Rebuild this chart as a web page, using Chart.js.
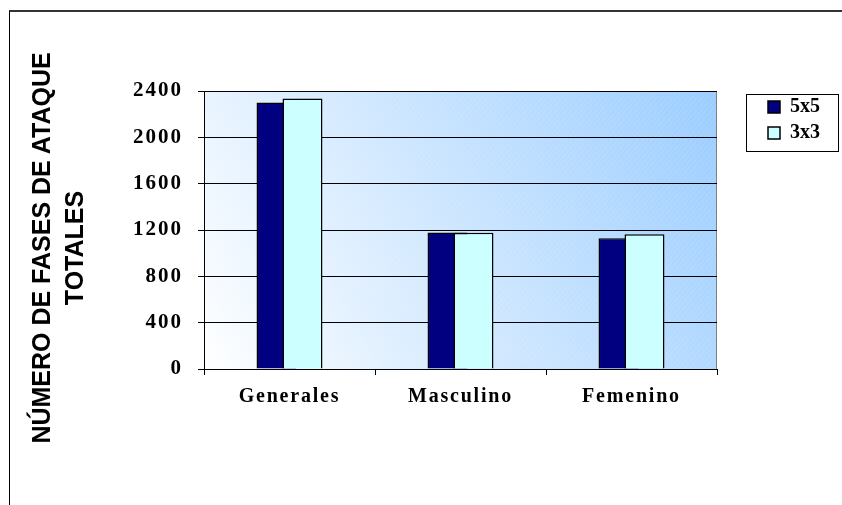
<!DOCTYPE html>
<html>
<head>
<meta charset="utf-8">
<script src="https://cdn.jsdelivr.net/npm/chart.js@4/dist/chart.umd.min.js"></script>
<style>
  body { margin: 0; background: #fff; }
  #wrap { position: relative; width: 842px; height: 505px; overflow: hidden; }
  #frame { position: absolute; left: 9px; top: 10px; width: 900px; height: 600px;
           border-left: 1px solid #000; border-top: 2px solid #333; }
  #ytitle { position: absolute; left: -152px; top: 215px; width: 420px; height: 66px;
            transform: rotate(-90deg); text-align: center;
            font: bold 25px 'Liberation Sans', Arial, sans-serif; line-height: 33px; color: #000; }
  canvas { position: absolute; left: 0; top: 0; }
</style>
</head>
<body>
<div id="wrap">
  <div id="frame"></div>
  <canvas id="faseChart" width="842" height="505"></canvas>
  <div id="ytitle">NÚMERO DE FASES DE ATAQUE<br>TOTALES</div>
</div>
<script>
const categories = ['Generales', 'Masculino', 'Femenino'];
const serie5x5 = [2300, 1178, 1128];
const serie3x3 = [2335, 1176, 1163];
const yTicks = [0, 400, 800, 1200, 1600, 2000, 2400];

// plot area background: gradient white -> light blue, faint hatch, grey frame on the right
const plotBackground = {
    id: 'plotBackground',
    beforeDraw(chart) {
        const { ctx, chartArea: a } = chart;
        const g = ctx.createLinearGradient(a.left, a.bottom, a.right, a.top);
        g.addColorStop(0, '#ffffff');
        g.addColorStop(1, '#99ccff');
        ctx.save();
        ctx.fillStyle = g;
        ctx.fillRect(a.left, a.top, a.right - a.left, a.bottom - a.top);

        ctx.beginPath();
        ctx.rect(a.left, a.top, a.right - a.left, a.bottom - a.top);
        ctx.clip();
        ctx.strokeStyle = 'rgba(255,255,255,0.18)';
        ctx.lineWidth = 1;
        ctx.setLineDash([2, 2]);
        const h = a.bottom - a.top;
        for (let x = a.left - h; x < a.right; x += 5) {
            ctx.beginPath();
            ctx.moveTo(x, a.top);
            ctx.lineTo(x + h * 2.2, a.top + h);
            ctx.stroke();
        }
        ctx.setLineDash([]);
        ctx.strokeStyle = '#808080';
        ctx.beginPath();
        ctx.moveTo(a.right - 0.5, a.top);
        ctx.lineTo(a.right - 0.5, a.bottom);
        ctx.stroke();
        ctx.restore();

        // wider letters on tick labels
        [['x', '1.8px'], ['y', '2px']].forEach(([id, sp]) => {
            const s = chart.scales[id];
            if (s._spaced) return;
            const orig = s.drawLabels;
            s.drawLabels = function (area) {
                this.ctx.save();
                this.ctx.letterSpacing = sp;
                orig.call(this, area);
                this.ctx.restore();
            };
            s._spaced = true;
        });
    }
};

// legend on the right with a fixed width and a box around it
const legendBox = {
    id: 'legendBox',
    beforeLayout(chart) {
        const lg = chart.legend;
        if (!lg || lg._fixed) return;
        const fit = lg.fit;
        lg.fit = function () { fit.call(this); this.width = 125; };
        lg._fixed = true;
    },
    afterLayout(chart) {
        chart.legend.left += 45;
        chart.legend.right += 45;
    },
    afterDraw(chart) {
        const lg = chart.legend;
        const ctx = chart.ctx;
        ctx.save();
        ctx.strokeStyle = '#000';
        ctx.lineWidth = 1;
        ctx.strokeRect(Math.round(lg.left - 16) + 0.5, Math.round(lg.top + 3) + 0.5, 92, 57);
        ctx.restore();
    }
};

const ctx = document.getElementById('faseChart').getContext('2d');
const faseChart = new Chart(ctx, {
    type: 'bar',
    data: {
        labels: categories,
        datasets: [{
            label: '5x5',
            data: serie5x5,
            backgroundColor: '#000080',
            borderColor: '#000000',
            borderWidth: 1.5,
            stack: 'a',
            order: 1
        }, {
            label: '3x3',
            data: serie3x3,
            backgroundColor: '#ccffff',
            borderColor: '#000000',
            borderWidth: 1.5,
            stack: 'b',
            order: 0
        }, {
            // empty helper so 3x3 sits right of 5x5 and overlaps it, as in Excel
            label: '',
            data: categories.map(() => null),
            stack: 'a',
            order: -1
        }]
    },
    options: {
        responsive: false,
        animation: false,
        categoryPercentage: 0.304,
        barPercentage: 1.538,
        layout: { padding: { top: 91, left: 0, right: 0, bottom: 0 } },
        plugins: {
            tooltip: { enabled: false },
            legend: {
                position: 'right',
                align: 'start',
                labels: {
                    boxWidth: 12,
                    boxHeight: 12,
                    padding: 6,
                    color: '#000',
                    font: { family: "'Liberation Serif', 'Times New Roman', serif", size: 20, weight: 'bold' },
                    filter: item => item.datasetIndex < 2,
                    sort: (a, b) => a.datasetIndex - b.datasetIndex
                }
            }
        },
        scales: {
            x: {
                grid: { offset: true, drawOnChartArea: false, color: '#000', tickLength: 6 },
                border: { color: '#000', width: 1 },
                ticks: {
                    color: '#000',
                    padding: 10,
                    font: { family: "'Liberation Serif', 'Times New Roman', serif", size: 20, weight: 'bold' }
                },
                afterFit: s => { s.height = 136; }
            },
            y: {
                min: 0,
                max: 2400,
                stacked: false,
                afterBuildTicks: s => { s.ticks = yTicks.map(v => ({ value: v })); },
                grid: { color: '#000', tickLength: 6 },
                border: { color: '#000', width: 1 },
                ticks: {
                    color: '#000',
                    padding: 15,
                    callback: v => String(v),
                    font: { family: "'Liberation Serif', 'Times New Roman', serif", size: 21, weight: 'bold' }
                },
                afterFit: s => { s.width = 204; }
            }
        }
    },
    plugins: [plotBackground, legendBox]
});
</script>
</body>
</html>
